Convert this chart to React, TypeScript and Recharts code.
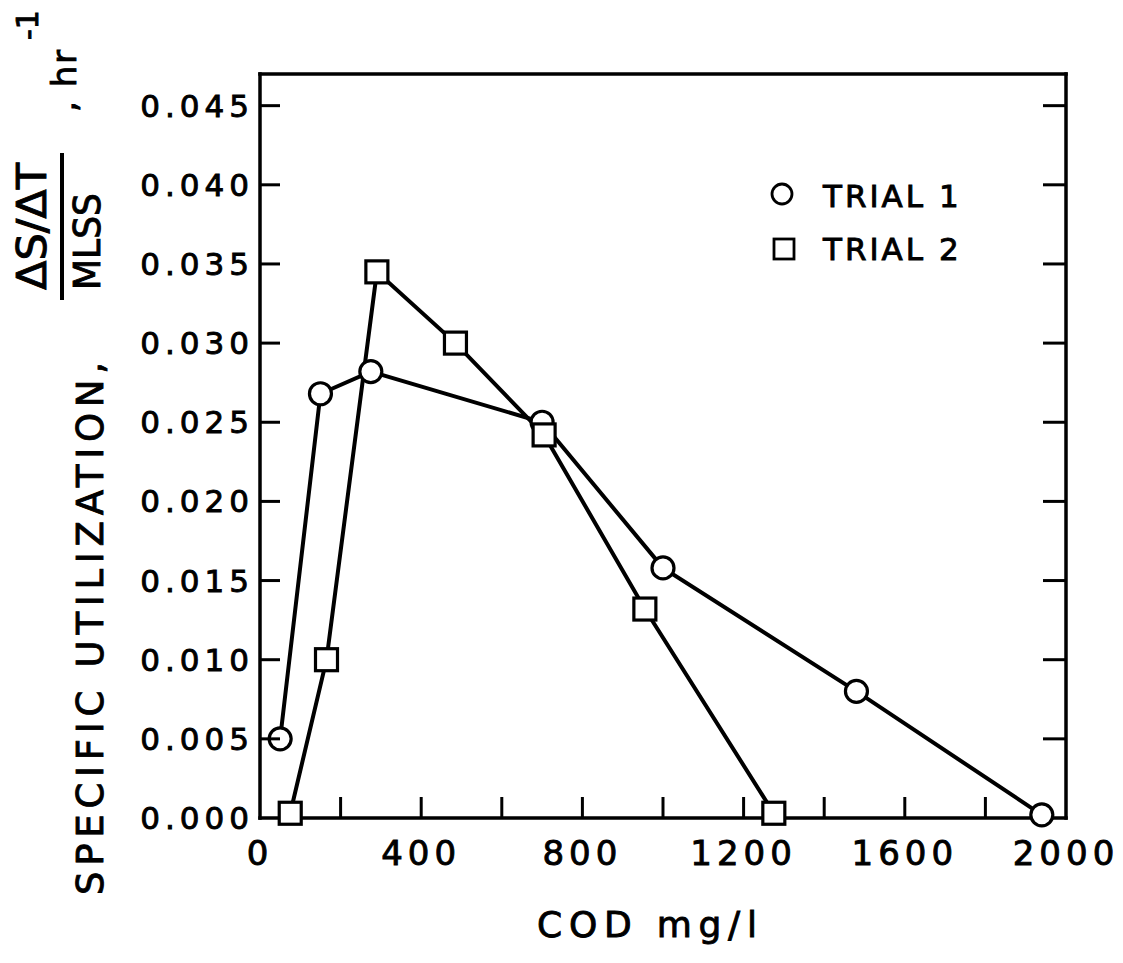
import React from 'react';
import { LineChart, Line, XAxis, YAxis, Legend } from 'recharts';

// COD (mg/l) vs specific utilization (hr^-1)
const trial1Cod = [50, 150, 275, 700, 1000, 1480, 1940];
const trial1Rate = [0.005, 0.0268, 0.0282, 0.025, 0.0158, 0.008, 0.0002];
const trial2Cod = [75, 165, 290, 485, 705, 955, 1275];
const trial2Rate = [0.0003, 0.01, 0.0345, 0.03, 0.0242, 0.0132, 0.0003];

const xTicks = [0, 200, 400, 600, 800, 1000, 1200, 1400, 1600, 1800, 2000];
const xLabelTicks = [0, 400, 800, 1200, 1600, 2000];
const yTicks = [0, 0.005, 0.01, 0.015, 0.02, 0.025, 0.03, 0.035, 0.04, 0.045];
const legendNames = ['TRIAL 1', 'TRIAL 2'];

const trial1 = trial1Cod.map((cod, i) => ({ cod, rate: trial1Rate[i] }));
const trial2 = trial2Cod.map((cod, i) => ({ cod, rate: trial2Rate[i] }));

const FONT = "'DejaVu Sans', sans-serif";
const INK = '#000';
// scanned lettering is heavier than the regular face
const heavy = { fill: INK, stroke: INK, strokeWidth: 0.9, fontFamily: FONT };

const axisLine = { stroke: INK, strokeWidth: 3.5, strokeLinecap: 'square' as const };

const BottomTick = ({ x, y, payload }: any) => {
  const v = payload.value;
  return (
    <g>
      {v > 0 && v < 2000 && <line x1={x} x2={x} y1={y} y2={y - 21} stroke={INK} strokeWidth={3} />}
      {xLabelTicks.includes(v) && (
        <text x={x} y={y + 47} textAnchor="middle" fontSize={34} letterSpacing={5} {...heavy}>
          {v}
        </text>
      )}
    </g>
  );
};

const TopTick = ({ x, y, payload }: any) => {
  const v = payload.value;
  if (v <= 0 || v >= 2000) return <g />;
  return <line x1={x} x2={x} y1={y} y2={y + 23} stroke={INK} strokeWidth={3} />;
};

const LeftTick = ({ x, y, payload }: any) => {
  const v = payload.value;
  return (
    <g>
      {v > 0 && <line x1={x} x2={x + 20} y1={y} y2={y} stroke={INK} strokeWidth={3} />}
      <text x={x - 6} y={y + 11} textAnchor="end" fontSize={31} letterSpacing={5} {...heavy}>
        {v.toFixed(3)}
      </text>
    </g>
  );
};

const RightTick = ({ x, y, payload }: any) => {
  const v = payload.value;
  if (v <= 0) return <g />;
  return <line x1={x} x2={x - 23} y1={y} y2={y} stroke={INK} strokeWidth={3} />;
};

const CircleDot = (props: any) => (
  <circle key={`c-${props.index}`} cx={props.cx} cy={props.cy} r={11} fill="#fff" stroke={INK} strokeWidth={3.2} />
);

const SquareDot = (props: any) => (
  <rect key={`s-${props.index}`} x={props.cx - 11} y={props.cy - 11} width={22} height={22} fill="#fff" stroke={INK} strokeWidth={3.2} />
);

const YTitle = () => (
  <g {...heavy}>
    <text x={103} y={895} transform="rotate(-90 103 895)" fontSize={37} textLength={533} lengthAdjust="spacing">
      SPECIFIC UTILIZATION,
    </text>
    <text x={46} y={290} transform="rotate(-90 46 290)" fontSize={40} textLength={127} lengthAdjust="spacingAndGlyphs">
      ΔS/ΔT
    </text>
    <line x1={62} x2={62} y1={300} y2={153} stroke={INK} strokeWidth={4} />
    <text x={100} y={290} transform="rotate(-90 100 290)" fontSize={38} textLength={97} lengthAdjust="spacingAndGlyphs">
      MLSS
    </text>
    <text x={76} y={112} transform="rotate(-90 76 112)" fontSize={34} textLength={62} lengthAdjust="spacing">
      , hr
    </text>
    <text x={38} y={40} transform="rotate(-90 38 40)" fontSize={30}>
      -1
    </text>
  </g>
);

const XTitle = () => (
  <text x={537} y={937} fontSize={36} textLength={220} lengthAdjust="spacing" {...heavy}>
    COD mg/l
  </text>
);

const LegendBox = () => (
  <svg width={240} height={110}>
    <circle cx={27} cy={29} r={10} fill="#fff" stroke={INK} strokeWidth={2.8} />
    <text x={68} y={42} fontSize={31} letterSpacing={3} {...heavy}>
      {legendNames[0]}
    </text>
    <rect x={19} y={74} width={20} height={20} fill="#fff" stroke={INK} strokeWidth={2.8} />
    <text x={68} y={95} fontSize={31} letterSpacing={3} {...heavy}>
      {legendNames[1]}
    </text>
  </svg>
);

export default function App() {
  return (
    <div style={{ position: 'absolute', left: 0, top: 0, width: 1123, height: 963, background: '#fff' }}>
      <LineChart width={1123} height={963} margin={{ top: 73, right: 56, bottom: 144, left: 259 }}>
        <XAxis
          xAxisId="bottom"
          dataKey="cod"
          type="number"
          domain={[0, 2000]}
          ticks={xTicks}
          interval={0}
          height={1}
          tickSize={0}
          tickMargin={0}
          tickLine={false}
          axisLine={axisLine}
          tick={<BottomTick />}
          label={XTitle}
        />
        <XAxis
          xAxisId="top"
          orientation="top"
          type="number"
          domain={[0, 2000]}
          allowDataOverflow
          ticks={xTicks}
          interval={0}
          height={1}
          tickSize={0}
          tickMargin={0}
          tickLine={false}
          axisLine={axisLine}
          tick={<TopTick />}
        />
        <YAxis
          yAxisId="left"
          type="number"
          domain={[0, 0.047]}
          ticks={yTicks}
          interval={0}
          width={1}
          tickSize={0}
          tickMargin={0}
          tickLine={false}
          axisLine={axisLine}
          tick={<LeftTick />}
          label={YTitle}
        />
        <YAxis
          yAxisId="right"
          orientation="right"
          type="number"
          domain={[0, 0.047]}
          allowDataOverflow
          ticks={yTicks}
          interval={0}
          width={1}
          tickSize={0}
          tickMargin={0}
          tickLine={false}
          axisLine={axisLine}
          tick={<RightTick />}
        />
        <Line
          xAxisId="bottom"
          yAxisId="left"
          data={trial1}
          dataKey="rate"
          name={legendNames[0]}
          stroke={INK}
          strokeWidth={4}
          dot={CircleDot}
          activeDot={false}
          isAnimationActive={false}
        />
        <Line
          xAxisId="bottom"
          yAxisId="left"
          data={trial2}
          dataKey="rate"
          name={legendNames[1]}
          stroke={INK}
          strokeWidth={4}
          dot={SquareDot}
          activeDot={false}
          isAnimationActive={false}
        />
        <Legend
          layout="horizontal"
          verticalAlign="middle"
          align="center"
          wrapperStyle={{ left: 755, top: 165, width: 240, height: 110 }}
          content={LegendBox}
        />
      </LineChart>
    </div>
  );
}
